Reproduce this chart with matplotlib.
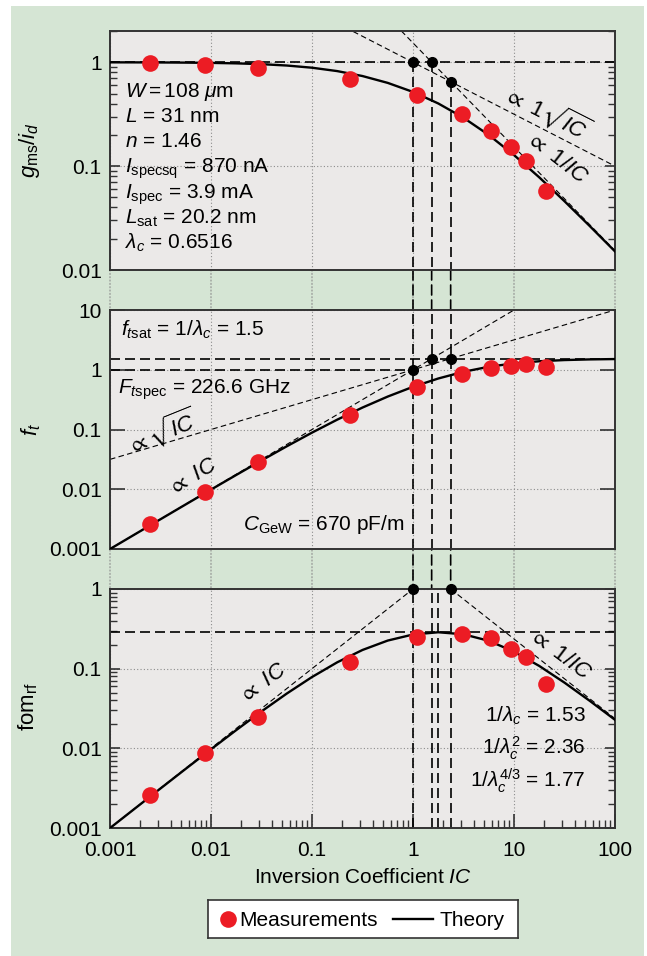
import numpy as np
import matplotlib
matplotlib.use("Agg")
import matplotlib.pyplot as plt
from matplotlib.patches import Rectangle, ConnectionPatch
from matplotlib.ticker import FixedLocator, FuncFormatter, NullFormatter, NullLocator

plt.rcParams.update({
    "font.family": ["Liberation Sans", "DejaVu Sans"],
    "font.size": 15,
    "mathtext.fontset": "custom",
    "mathtext.rm": "Liberation Sans",
    "mathtext.it": "Liberation Sans:italic",
    "mathtext.bf": "Liberation Sans:bold",
    "mathtext.fallback": "stixsans",
})

GREEN = "#d5e5d4"
PANEL = "#ebe9e8"
RED = "#ec1c24"
SPINE = "#333333"
GRID = "#8c8c8c"
FS = 15

# ---- device parameters ----
lam_c = 0.6516
inv_lam = 1.53       # 1/lambda_c
inv_lam2 = 2.36      # 1/lambda_c^2
inv_lam43 = 1.77     # 1/lambda_c^(4/3)
ft_sat = 1.53
fom_peak = 0.2865

# ---- measurements ----
ic_meas = [0.0025, 0.0088, 0.029, 0.24, 1.1, 3.05, 5.9, 9.3, 13.2, 20.7]
gm_meas = [0.985, 0.94, 0.88, 0.69, 0.48, 0.32, 0.216, 0.152, 0.113, 0.058]
ft_meas = [0.00266, 0.00898, 0.0282, 0.177, 0.52, 0.857, 1.09, 1.135, 1.23, 1.10]
fom_meas = [0.0026, 0.00868, 0.0248, 0.1225, 0.252, 0.272, 0.241, 0.177, 0.139, 0.0648]

# ---- theory, sampled every quarter decade from IC = 0.001 to 100 ----
ic_model = np.logspace(-3, 2, 21)
gm_model = [0.9986, 0.9975, 0.9956, 0.9922, 0.9863, 0.9761, 0.9588, 0.9304,
            0.8863, 0.8222, 0.7368, 0.6330, 0.5181, 0.4013, 0.2923, 0.1995,
            0.1279, 0.0780, 0.04594, 0.02649, 0.01510]
ft_model = [0.000999, 0.001774, 0.003148, 0.005580, 0.009863, 0.017358,
            0.030318, 0.052321, 0.088630, 0.146216, 0.232994, 0.355979,
            0.51811, 0.713677, 0.924365, 1.121590, 1.27920, 1.387147,
            1.452751, 1.489735, 1.5100]
fom_model = [0.000998, 0.001770, 0.003134, 0.005536, 0.009728, 0.016943,
             0.029067, 0.048680, 0.078553, 0.120223, 0.171668, 0.225345,
             0.268438, 0.286420, 0.270201, 0.223701, 0.163635, 0.108204,
             0.066739, 0.039466, 0.022801]

x_ticks = [0.001, 0.01, 0.1, 1, 10, 100]

W_PX, H_PX = 647, 956
fig = plt.figure(figsize=(W_PX / 100, H_PX / 100), dpi=100, facecolor="white")
fig.add_artist(Rectangle((11 / W_PX, 0), 633 / W_PX, 950 / H_PX,
                         transform=fig.transFigure, facecolor=GREEN,
                         edgecolor="none", zorder=-5))

left, width, height = 110 / W_PX, 505 / W_PX, 239 / H_PX
ax1 = fig.add_axes([left, 1 - 270 / H_PX, width, height])
ax2 = fig.add_axes([left, 1 - 549 / H_PX, width, height])
ax3 = fig.add_axes([left, 1 - 828 / H_PX, width, height])

fmt = FuncFormatter(lambda v, p: f"{v:g}")
minor_sub = [a * 10.0 ** e for e in range(-4, 3) for a in range(2, 10)]

def style(ax, ylim, yticks, minor_y, major_len):
    ax.set_xscale("log")
    ax.set_yscale("log")
    ax.set_xlim(1e-3, 1e2)
    ax.set_ylim(*ylim)
    ax.set_facecolor(PANEL)
    for s in ax.spines.values():
        s.set_color(SPINE)
        s.set_linewidth(1.4)
    ax.set_axisbelow(True)
    ax.xaxis.set_major_locator(FixedLocator(x_ticks))
    ax.yaxis.set_major_locator(FixedLocator(yticks))
    ax.yaxis.set_major_formatter(fmt)
    if minor_y:
        ax.yaxis.set_minor_locator(FixedLocator(minor_sub))
    else:
        ax.yaxis.set_minor_locator(NullLocator())
    ax.yaxis.set_minor_formatter(NullFormatter())
    ax.tick_params(axis="y", which="both", direction="in", left=True,
                   right=True, color=SPINE, labelsize=FS, pad=6)
    ax.tick_params(axis="y", which="major", length=major_len, width=1.2)
    ax.tick_params(axis="y", which="minor", length=5, width=1.0)
    ax.grid(True, which="major", ls=(0, (1, 2)), color=GRID, lw=0.8)

style(ax1, (0.01, 2), [0.01, 0.1, 1], True, 7)
style(ax2, (0.001, 10), [0.001, 0.01, 0.1, 1, 10], False, 11)
style(ax3, (0.001, 1), [0.001, 0.01, 0.1, 1], True, 7)

for ax in (ax1, ax2):
    ax.xaxis.set_minor_locator(NullLocator())
    ax.tick_params(axis="x", which="both", length=0, labelbottom=False)
ax3.xaxis.set_major_formatter(fmt)
ax3.xaxis.set_minor_locator(FixedLocator(minor_sub))
ax3.xaxis.set_minor_formatter(NullFormatter())
ax3.tick_params(axis="x", which="both", direction="in", bottom=True,
                top=False, color=SPINE, labelsize=FS, pad=9)
ax3.tick_params(axis="x", which="major", length=10, width=1.2)
ax3.tick_params(axis="x", which="minor", length=6, width=1.0)

DASH_BOLD = dict(color="k", lw=1.2, ls=(0, (6, 3)))
DASH_THIN = dict(color="k", lw=0.8, ls=(0, (5, 3)))
DOT_KW = dict(ls="none", marker="o", color="k", ms=7, zorder=7, clip_on=False)
MEAS_KW = dict(ls="none", marker="o", color=RED, ms=12, mec="none", zorder=6)
THEORY_KW = dict(color="k", lw=1.7, zorder=4)
ic_line = np.array([1e-3, 1e2])

# ---- gms/id ----
ax1.axhline(1, **DASH_BOLD)
ax1.plot(ic_line, 1 / np.sqrt(ic_line), **DASH_THIN)
ax1.plot(ic_line, 1 / (lam_c * ic_line), **DASH_THIN)
for xv, yv in [(1, 1), (inv_lam, 1), (inv_lam2, lam_c)]:
    ax1.plot([xv, xv], [yv, 0.01], **DASH_BOLD)
ax1.plot(ic_model, gm_model, **THEORY_KW)
ax1.plot(ic_meas, gm_meas, **MEAS_KW)
ax1.plot([1, inv_lam, inv_lam2], [1, 1, lam_c], **DOT_KW)
ax1.set_ylabel(r"$g_{\mathrm{ms}}/i_d$", fontsize=16)
ax1.yaxis.set_label_coords(-0.135, 0.5)

info = [r"$W = 108\ \mu$m", r"$L$ = 31 nm", r"$n$ = 1.46",
        r"$I_{\mathrm{specsq}}$ = 870 nA", r"$I_{\mathrm{spec}}$ = 3.9 mA",
        r"$L_{\mathrm{sat}}$ = 20.2 nm", r"$\lambda_c$ = 0.6516"]
for txt, yb in zip(info, [0.725, 0.620, 0.516, 0.407, 0.300, 0.195, 0.090]):
    ax1.text(0.03, yb, txt, transform=ax1.transAxes, fontsize=FS,
             ha="left", va="baseline")
ax1.text(0.865, 0.662, r"$\propto$ 1$\sqrt{IC}$", transform=ax1.transAxes,
         fontsize=16, rotation=-27, ha="center", va="center",
         rotation_mode="anchor")
ax1.text(0.884, 0.469, r"$\propto$ 1/$IC$", transform=ax1.transAxes,
         fontsize=16, rotation=-38, ha="center", va="center",
         rotation_mode="anchor")

# ---- ft ----
ax2.axhline(ft_sat, **DASH_BOLD)
ax2.plot([1e-3, 1], [1, 1], **DASH_BOLD)
ax2.plot(ic_line, ic_line, **DASH_THIN)
ax2.plot(ic_line, np.sqrt(ic_line), **DASH_THIN)
for xv in (1, inv_lam, inv_lam2):
    ax2.axvline(xv, **DASH_BOLD)
ax2.plot(ic_model, ft_model, **THEORY_KW)
ax2.plot(ic_meas, ft_meas, **MEAS_KW)
ax2.plot([1, inv_lam, inv_lam2], [1, ft_sat, ft_sat], **DOT_KW)
ax2.set_ylabel(r"$f_t$", fontsize=16)
ax2.yaxis.set_label_coords(-0.133, 0.5)
ax2.text(0.021, 0.892, r"$f_{t\mathrm{sat}}$ = 1/$\lambda_c$ = 1.5",
         transform=ax2.transAxes, fontsize=FS, va="baseline")
ax2.text(0.0165, 0.649, r"$F_{t\mathrm{spec}}$ = 226.6 GHz",
         transform=ax2.transAxes, fontsize=FS, va="baseline")
ax2.text(0.264, 0.0795, r"$C_{\mathrm{GeW}}$ = 670 pF/m",
         transform=ax2.transAxes, fontsize=FS, va="baseline")
ax2.text(0.103, 0.49, r"$\propto\sqrt{IC}$", transform=ax2.transAxes,
         fontsize=16, rotation=22, ha="center", va="center",
         rotation_mode="anchor")
ax2.text(0.164, 0.301, r"$\propto$ $IC$", transform=ax2.transAxes,
         fontsize=16, rotation=31, ha="center", va="center",
         rotation_mode="anchor")

# ---- fom_rf ----
ax3.axhline(fom_peak, **DASH_BOLD)
ax3.plot([1e-3, 1], [1e-3, 1], **DASH_THIN)
ax3.plot([inv_lam2, 100], [1, inv_lam2 / 100], **DASH_THIN)
for xv in (1, inv_lam, inv_lam43, inv_lam2):
    ax3.axvline(xv, **DASH_BOLD)
ax3.plot(ic_model, fom_model, **THEORY_KW)
ax3.plot(ic_meas, fom_meas, **MEAS_KW)
ax3.plot([1, inv_lam2], [1, 1], **DOT_KW)
ax3.set_ylabel(r"fom$_{\mathrm{rf}}$", fontsize=16)
ax3.yaxis.set_label_coords(-0.139, 0.51)
ax3.set_xlabel(r"Inversion Coefficient $IC$", fontsize=FS, labelpad=6)
for txt, yb in zip([r"1/$\lambda_c$ = 1.53", r"1/$\lambda_c^2$ = 2.36",
                    r"1/$\lambda_c^{4/3}$ = 1.77"], [0.445, 0.309, 0.173]):
    ax3.text(0.942, yb, txt, transform=ax3.transAxes, fontsize=FS,
             ha="right", va="baseline")
ax3.text(0.303, 0.607, r"$\propto$ $IC$", transform=ax3.transAxes,
         fontsize=16, rotation=36, ha="center", va="center",
         rotation_mode="anchor")
ax3.text(0.891, 0.724, r"$\propto$ 1/$IC$", transform=ax3.transAxes,
         fontsize=16, rotation=-37, ha="center", va="center",
         rotation_mode="anchor")

# ---- lines crossing the gaps between panels ----
for xv in x_ticks:
    fig.add_artist(ConnectionPatch((xv, 0.01), (xv, 1), "data", "data",
                                   axesA=ax1, axesB=ax3, color=GRID,
                                   lw=0.8, ls=(0, (1, 2)), zorder=-1))
for xv in (1, inv_lam, inv_lam2):
    fig.add_artist(ConnectionPatch((xv, 0.01), (xv, 1), "data", "data",
                                   axesA=ax1, axesB=ax3, zorder=-1,
                                   **DASH_BOLD))

# ---- legend box ----
lg = fig.add_axes([208 / W_PX, 1 - 938 / H_PX, 310 / W_PX, 38 / H_PX])
lg.set_xlim(0, 310)
lg.set_ylim(0, 38)
lg.set_xticks([])
lg.set_yticks([])
lg.set_facecolor("white")
for s in lg.spines.values():
    s.set_color(SPINE)
    s.set_linewidth(1.2)
lg.plot([20], [19], **MEAS_KW)
lg.text(31, 19, "Measurements", fontsize=FS, va="center_baseline")
lg.plot([185, 225], [19, 19], **THEORY_KW)
lg.text(232, 19, "Theory", fontsize=FS, va="center_baseline")

fig.savefig("out.png", dpi=100, facecolor="white")
